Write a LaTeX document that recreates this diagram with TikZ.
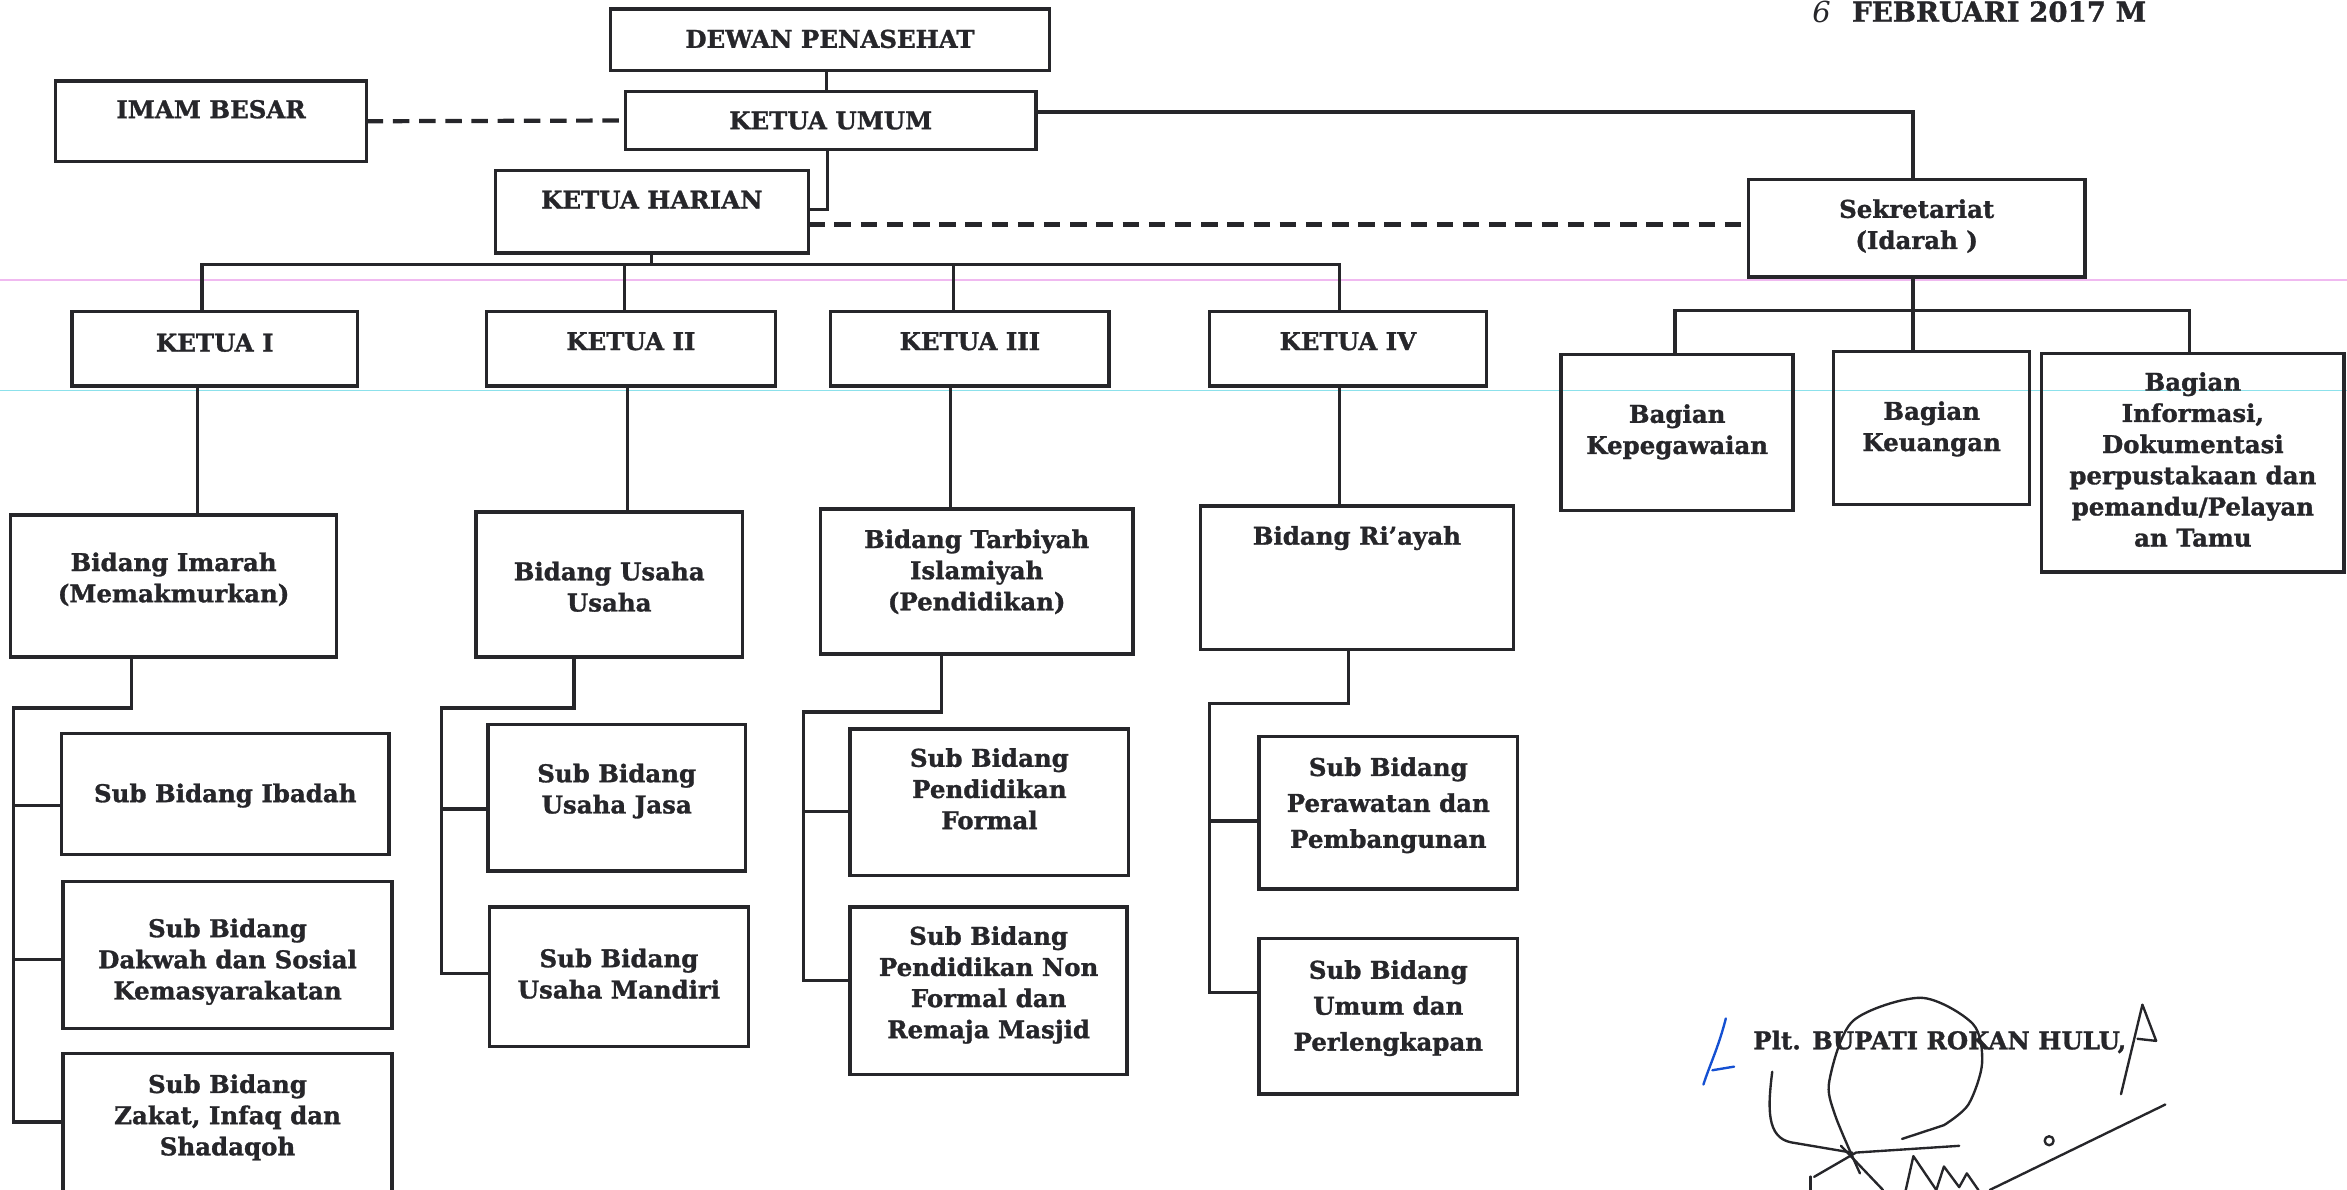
\documentclass[tikz,border=0pt]{standalone}
\usepackage{fontspec}
\setmainfont[BoldFeatures={FakeBold=1.2}]{DejaVu Serif}
\usetikzlibrary{fit,calc}
\definecolor{ink}{RGB}{38,38,42}
\definecolor{guidepink}{RGB}{240,185,240}
\definecolor{guidecyan}{RGB}{140,225,235}
\definecolor{penblue}{RGB}{20,80,210}
\tikzset{
 box/.style={draw=ink, line width=1.3pt, inner sep=0pt, outer sep=0pt},
 txt/.style={font=\fontsize{9.3}{11.85}\selectfont\bfseries, align=center, inner sep=0pt, text=ink},
 wide/.style={font=\fontsize{9.3}{13.66}\selectfont\bfseries},
 conn/.style={draw=ink, line width=1.2pt},
 dashline/.style={draw=ink, line width=1.6pt, dash pattern=on 0.22cm off 0.13cm},
 guide/.style={line width=0.5pt},
 sig/.style={draw=ink, line width=0.9pt, line cap=round, line join=round},
 pen/.style={draw=penblue, line width=0.9pt, line cap=round, line join=round},
}
% [text style] name x1 y1 x2 y2 text text-centre-y
\newcommand\obox[8][]{%
 \node[box, fit={(#3,#4) (#5,#6)}] (#2) {};
 \node[txt,#1] (#2-t) at (#2.center |- 0,#8) {#7};}

\begin{document}
\begin{tikzpicture}[x=0.02cm, y=-0.02cm]
\useasboundingbox (0,0) rectangle (1568,795);
\clip (0,0) rectangle (1568,795);

% scan guide lines
\draw[guide, guidepink] (0,187) -- (1568,187);
\draw[guide, guidecyan] (0,261) -- (1568,261);

% date
\node[font=\fontsize{10.5}{12}\selectfont\bfseries, text=ink, anchor=base west, inner sep=0pt] (date) at (1237,14.5) {FEBRUARI 2017 M};
\node[font=\fontsize{11}{12}\selectfont\itshape, text=ink, anchor=base, inner sep=0pt] (dateday) at (1217,15) {6};

% top level
\obox{dewan}{408}{6}{701}{47}{DEWAN PENASEHAT}{26}
\obox{imam}{37}{54}{245}{108}{IMAM BESAR}{73}
\obox{kumum}{418}{61}{692}{100}{KETUA UMUM}{80.5}
\obox{kharian}{331}{114}{540}{169}{KETUA HARIAN}{133.5}
\obox{sekr}{1168}{120}{1393}{185}{Sekretariat\\(Idarah )}{151}

% ketua row
\obox{k1}{48}{208}{239}{258}{KETUA I}{229}
\obox{k2}{325}{208}{518}{258}{KETUA II}{228}
\obox{k3}{555}{208}{741}{258}{KETUA III}{228}
\obox{k4}{808}{208}{993}{258}{KETUA IV}{228}

% bagian
\obox{bkep}{1043}{237}{1198}{341}{Bagian\\Kepegawaian}{288.5}
\obox{bkeu}{1225}{235}{1356}{337}{Bagian\\Keuangan}{286.5}
\obox{binfo}{1364}{236}{1566}{382}{Bagian\\Informasi,\\Dokumentasi\\perpustakaan dan\\pemandu/Pelayan\\an Tamu}{307}

% bidang
\obox{bimarah}{7}{344}{225}{439}{Bidang Imarah\\(Memakmurkan)}{387}
\obox{busaha}{318}{342}{496}{439}{Bidang Usaha\\Usaha}{392}
\obox{btarbiyah}{548}{340}{757}{437}{Bidang Tarbiyah\\Islamiyah\\(Pendidikan)}{382}
\obox{briayah}{802}{338}{1011}{434}{Bidang Ri’ayah}{359.5}

% sub bidang
\obox{sibadah}{41}{490}{260}{571}{Sub Bidang Ibadah}{531.5}
\obox{sdakwah}{42}{589}{262}{687}{Sub Bidang\\Dakwah dan Sosial\\Kemasyarakatan}{642.5}
\obox{szakat}{42}{704}{262}{805}{Sub Bidang\\Zakat, Infaq dan\\Shadaqoh}{746.5}
\obox{sjasa}{326}{484}{498}{582}{Sub Bidang\\Usaha Jasa}{528.5}
\obox{smandiri}{327}{606}{500}{699}{Sub Bidang\\Usaha Mandiri}{650.5}
\obox{sformal}{568}{487}{754}{585}{Sub Bidang\\Pendidikan\\Formal}{527}
\obox{snonformal}{568}{606}{753}{718}{Sub Bidang\\Pendidikan Non\\Formal dan\\Remaja Masjid}{658}
\obox[wide]{sperawatan}{841}{492}{1014}{594}{Sub Bidang\\Perawatan dan\\Pembangunan}{538}
\obox[wide]{sumum}{841}{627}{1014}{731}{Sub Bidang\\Umum dan\\Perlengkapan}{673.5}

% connectors: top
\draw[conn] (dewan.south -| 552,0) -- (kumum.north -| 552,0);
\draw[dashline] (imam.east) -- (kumum.west);
\draw[conn] (kumum.south -| 553,0) -- (553,140) -- (kharian.east |- 0,140);
\draw[conn, line width=1.4pt] (kumum.east |- 0,75) -- (1278,75) -- (sekr.north -| 1278,0);
\draw[dashline] (kharian.east |- 0,150) -- (sekr.west |- 0,150);

% ketua bus
\draw[conn] (kharian.south) -- (kharian.south |- 0,176.5);
\draw[conn] (k1.north -| 135,0) -- (135,176.5) -- (895,176.5) -- (k4.north -| 895,0);
\draw[conn] (k2.north -| 417,0) -- (417,176.5);
\draw[conn] (k3.north -| 637,0) -- (637,176.5);

% ketua -> bidang
\draw[conn] (k1.south -| 132,0) -- (bimarah.north -| 132,0);
\draw[conn] (k2.south -| 419,0) -- (busaha.north -| 419,0);
\draw[conn] (k3.south -| 635,0) -- (btarbiyah.north -| 635,0);
\draw[conn] (k4.south -| 895,0) -- (briayah.north -| 895,0);

% sekretariat -> bagian
\draw[conn] (sekr.south -| 1278,0) -- (bkeu.north -| 1278,0);
\draw[conn] (bkep.north -| 1119,0) -- (1119,207.5) -- (1463,207.5) -- (binfo.north -| 1463,0);

% bidang -> sub bidang
\draw[conn] (bimarah.south -| 88,0) -- (88,473) -- (9,473) -- (9,749.6) -- (szakat.west |- 0,749.6);
\draw[conn] (9,538) -- (sibadah.west |- 0,538);
\draw[conn] (9,641) -- (sdakwah.west |- 0,641);

\draw[conn] (busaha.south -| 383.5,0) -- (383.5,473) -- (295,473) -- (295,650.5) -- (smandiri.west |- 0,650.5);
\draw[conn] (295,540.5) -- (sjasa.west |- 0,540.5);

\draw[conn] (btarbiyah.south -| 629,0) -- (629,475.7) -- (537,475.7) -- (537,655) -- (snonformal.west |- 0,655);
\draw[conn] (537,542) -- (sformal.west |- 0,542);

\draw[conn] (briayah.south -| 901,0) -- (901,470) -- (808,470) -- (808,663) -- (sumum.west |- 0,663);
\draw[conn] (808,548.5) -- (sperawatan.west |- 0,548.5);

% signature block
\node[txt, anchor=base west] (bupati) at (1171,701) {Plt. BUPATI ROKAN HULU,};
\draw[pen] (1153,680.4) .. controls (1148,700) and (1142,712) .. (1138,724.6);
\draw[pen] (1144,715) -- (1158.5,712.6);
\draw[sig] plot[smooth] coordinates {(1242.6,783.9) (1226,745) (1222.2,721.8) (1238,682) (1283.4,666.6) (1318,684) (1324.2,710.3) (1315,738) (1298.7,751.7)};
\draw[sig] (1298.7,751.7) -- (1270.7,760.9);
\draw[sig] (1184,716) .. controls (1181,740) and (1180,760) .. (1196.7,763.2) -- (1237.5,770.1);
\draw[sig] (1212,786.2) -- (1240,770) -- (1308.9,765.5);
\draw[sig] (1229.9,765.5) -- (1258,795);
\draw[sig] (1209.5,786) -- (1209.5,795);
\draw[sig] (1273.2,795) -- (1278.3,772.4) -- (1293.6,795) -- (1298.7,779.3) -- (1308.9,793.1) -- (1314,783.9) -- (1321.7,795);
\draw[sig] (1446.6,737.9) -- (1329.3,795);
\draw[sig] (1369,762.1) circle (3);
\draw[sig] (1417,731) -- (1431.3,671.2) -- (1440.5,695.4) -- (1428,694);
\end{tikzpicture}
\end{document}
